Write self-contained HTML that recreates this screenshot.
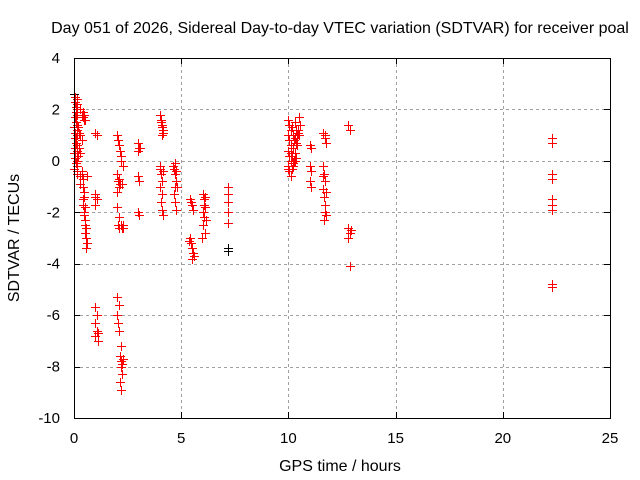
<!DOCTYPE html>
<html><head><meta charset="utf-8">
<style>
body{margin:0;background:#fff;}
svg{display:block;font-family:"Liberation Sans",sans-serif;}
</style></head><body>
<svg id="chart" width="640" height="480">
<rect width="640" height="480" fill="#fff"/>
<text x="340" y="33" font-size="16" text-anchor="middle">Day 051 of 2026, Sidereal Day-to-day VTEC variation (SDTVAR) for receiver poal</text>
<text transform="translate(19,238) rotate(-90)" font-size="16" text-anchor="middle">SDTVAR / TECUs</text>
<text x="340" y="471" font-size="16" text-anchor="middle">GPS time / hours</text>
<g id="grid"></g><g id="ticks"></g><g id="marks" shape-rendering="crispEdges"></g>
<rect x="74.5" y="58.5" width="536" height="360" fill="none" stroke="#000" stroke-width="1" shape-rendering="crispEdges"/>
</svg>
<script>
const xTicks=[0,5,10,15,20,25];
const yTicks=[4,2,0,-2,-4,-6,-8,-10];
const redX=[
0.05,0.05,0.08,0.1,0.05,0.1,0.02,0.05,0.08,0.1,0.05,0.02,0.06,0.1,0.0,0.03,
0.12,0.15,0.12,0.15,0.12,0.15,0.12,0.15,0.12,0.15,0.12,0.15,0.12,
0.3,0.35,0.4,0.45,0.5,0.3,0.35,0.25,0.3,0.2,0.25,0.2,0.4,0.45,0.3,
0.35,0.4,0.3,0.45,0.4,0.5,0.45,0.5,0.55,0.5,0.55,0.6,0.55,0.6,0.35,0.4,0.45,0.4,0.45,0.5,
1.0,1.05,1.0,1.05,1.0,1.0,1.05,1.0,1.05,1.0,1.1,1.1,1.05,1.0,
2.0,2.05,2.1,2.15,2.2,2.2,2.3,2.0,2.05,2.1,2.0,2.0,2.1,2.2,2.3,2.0,2.1,2.0,2.05,2.1,2.2,2.15,2.2,2.2,2.25,2.15,2.2,
2.05,2.1,2.2,2.25,2.1,2.15,2.25,2.3,2.3,2.25,
3.0,3.05,3.0,3.0,3.05,3.0,3.05,3.1,
4.0,4.05,4.1,4.15,4.1,4.0,4.05,4.1,4.0,4.1,4.05,4.1,4.15,4.05,4.1,4.15,4.0,4.15,
4.7,4.65,4.7,4.75,4.7,4.65,4.7,4.75,4.6,4.75,4.8,
5.4,5.5,5.55,5.4,5.45,5.5,5.55,5.5,5.45,5.6,5.35,
6.0,6.05,6.1,6.0,6.05,6.0,6.1,5.95,6.1,6.05,6.15,
7.2,7.2,7.2,7.2,7.2,
10.0,10.05,10.1,10.0,10.05,10.1,10.0,10.05,10.1,10.0,10.05,10.1,10.3,10.35,10.3,10.4,10.3,10.35,10.5,10.55,10.45,
10.15,10.2,10.25,10.2,10.15,10.25,10.2,10.4,10.45,10.5,10.35,10.2,10.15,10.3,10.0,10.1,
11.0,11.05,11.0,11.05,11.0,11.05,
11.6,11.7,11.75,11.6,11.65,11.7,11.6,11.65,11.7,11.7,11.75,11.65,11.7,11.75,11.6,
12.8,12.85,12.8,12.85,12.8,12.85,12.9,
22.3,22.3,22.3,22.3,22.3,22.3,22.3,22.3,22.3
];
const redY=[
2.5,2.3,2.1,1.9,1.7,1.5,1.3,1.1,0.9,0.7,0.5,0.3,0.1,-0.1,-0.3,0.9,
2.4,2.2,2.0,1.8,1.4,1.2,0.6,0.4,0.0,-0.2,-0.4,-0.5,1.0,
2.0,1.8,1.7,1.6,1.6,1.0,0.8,0.5,0.3,1.3,1.1,0.2,1.9,1.8,-0.6,
-0.5,-0.7,-0.9,-1.2,-1.5,-1.8,-2.1,-2.3,-2.6,-2.8,-3.0,-3.2,-3.4,-0.6,-0.4,-1.0,-1.4,-1.7,-2.0,-2.5,
1.1,1.0,-1.3,-1.5,-1.7,-5.7,-6.0,-6.3,-6.6,-6.8,-7.0,-6.7,1.0,-1.4,
1.0,0.8,0.6,0.4,0.2,0.0,-0.2,-0.5,-0.8,-1.0,-1.2,-1.8,-2.2,-2.5,-2.6,-5.3,-5.6,-6.0,-6.3,-6.6,-7.2,-7.6,-7.8,-8.0,-8.3,-8.6,-8.9,
-2.5,-2.6,-2.5,-2.6,-0.7,-0.9,-0.9,-2.5,-7.7,-7.9,
0.7,0.5,0.4,-0.6,-0.8,-2.0,-2.1,0.5,
1.8,1.6,1.4,1.2,1.0,-0.2,-0.5,-0.8,-1.0,-1.3,-1.6,-1.9,-2.1,1.5,1.3,1.1,-0.3,-0.4,
-0.1,-0.3,-0.5,-0.8,-1.0,-1.3,-1.6,-1.9,-0.2,-0.4,-1.0,
-1.5,-1.7,-1.9,-3.0,-3.2,-3.4,-3.6,-3.8,-1.6,-3.7,-3.1,
-1.3,-1.5,-1.8,-2.0,-2.2,-2.5,-2.8,-3.0,-1.4,-1.7,-2.3,
-1.0,-1.3,-1.6,-2.0,-2.4,
1.6,1.4,1.2,1.0,0.8,0.6,0.4,0.2,0.0,-0.2,-0.4,-0.6,1.5,1.2,0.9,0.6,0.3,0.1,1.7,1.4,1.1,
1.3,1.0,0.8,0.5,0.2,0.0,-0.2,1.0,1.2,1.0,0.7,-0.1,-0.3,0.0,-0.3,0.3,
0.6,0.5,-0.2,-0.4,-0.8,-1.0,
1.1,0.9,0.7,-0.2,-0.5,-0.8,-1.1,-1.4,-1.7,-2.0,-2.1,-2.3,1.0,-1.2,-0.6,
1.4,1.2,-2.6,-2.8,-3.0,-4.1,-2.7,
0.9,0.7,-0.5,-0.7,-1.5,-1.7,-1.9,-4.8,-4.9
];
const blackX=[0.0,7.2,7.2];
const blackY=[2.6,-3.4,-3.5];

const NS="http://www.w3.org/2000/svg";
const L=74,R=610,T=58,B=418;
function sx(v){return L+(v-0)/(25-0)*(R-L);}
function sy(v){return B-(v-(-10))/(4-(-10))*(B-T);}
function mk(tag,attrs,parent){const e=document.createElementNS(NS,tag);for(const k in attrs)e.setAttribute(k,attrs[k]);parent.appendChild(e);return e;}
const grid=document.getElementById('grid'),ticks=document.getElementById('ticks'),marks=document.getElementById('marks');
xTicks.forEach(v=>{
  const x=Math.round(sx(v))+0.5;
  if(v>0&&v<25){const g=mk('line',{x1:x,x2:x,y1:T,y2:B,stroke:'#a0a0a0','stroke-dasharray':'3,3'},grid);
  
  }
  mk('line',{x1:x,x2:x,y1:B,y2:B-6,stroke:'#000'},ticks);
  mk('line',{x1:x,x2:x,y1:T,y2:T+6,stroke:'#000'},ticks);
  const t=mk('text',{x:sx(v),y:443,'font-size':15,'text-anchor':'middle'},ticks);
  t.textContent=v;
  
  
});
yTicks.forEach(v=>{
  const y=Math.round(sy(v))+0.5;
  if(v<4&&v>-10){const g=mk('line',{x1:L,x2:R,y1:y,y2:y,stroke:'#a0a0a0','stroke-dasharray':'3,3'},grid);
  
  }
  mk('line',{x1:L,x2:L+6,y1:y,y2:y,stroke:'#000'},ticks);
  mk('line',{x1:R,x2:R-6,y1:y,y2:y,stroke:'#000'},ticks);
  const t=mk('text',{x:60,y:sy(v)+5,'font-size':15,'text-anchor':'end'},ticks);
  t.textContent=v;
  
  
});
function plus(x,y,color,name){
  const px=Math.round(sx(x)),py=Math.round(sy(y));
  const g=mk('g',{fill:color},marks);
  mk('rect',{x:px-4,y:py,width:9,height:1},g);
  mk('rect',{x:px,y:py-4,width:1,height:9},g);
  
  
}
blackX.forEach((x,i)=>plus(x,blackY[i],'#000','black-point'));
redX.forEach((x,i)=>plus(x,redY[i],'#ff0000','red-point'));
</script>
</body></html>
